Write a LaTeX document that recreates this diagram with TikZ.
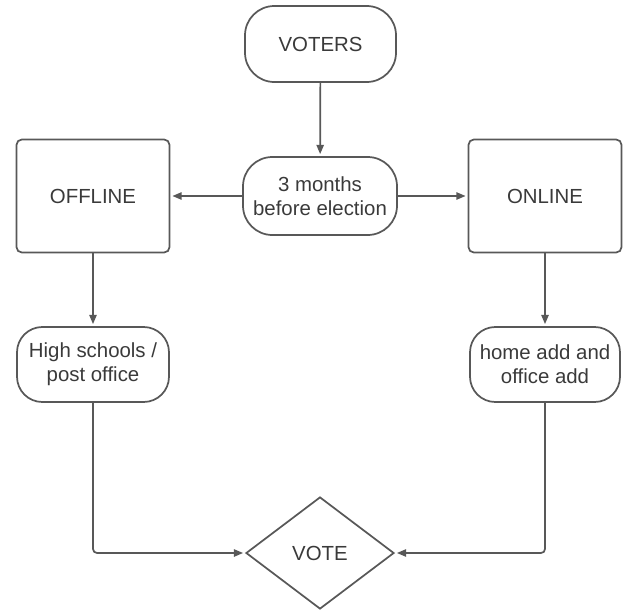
\documentclass[tikz,border=0pt]{standalone}
\usepackage{fontspec}
\setmainfont{Liberation Sans}
\usepackage{xcolor}
\usetikzlibrary{shapes.geometric, arrows.meta, positioning}
\definecolor{linegray}{RGB}{88, 88, 88}
\definecolor{textgray}{RGB}{58, 58, 58}

\begin{document}
\begin{tikzpicture}[x=0.75pt, y=-0.75pt,
    every node/.style={font=\fontsize{15.3}{18}\selectfont, text=textgray},
    flowline/.style={draw=linegray, line width=1.3pt},
    flowarrow/.style={flowline, -{Triangle[length=7pt, width=5.5pt]}, shorten >=1.5pt},
    pill/.style={flowline, rounded corners=22pt, inner sep=2pt, align=center},
    squarebox/.style={flowline, rounded corners=4pt, inner sep=2pt, align=center,
                      minimum width=114.75pt, minimum height=84.75pt},
    decision/.style={flowline, diamond, inner sep=0pt, minimum width=111pt, minimum height=84pt}]
    \useasboundingbox (0,0) rectangle (623,614);

    \node[pill, minimum width=113.25pt, minimum height=57pt] (voters) at (320.5,44) {VOTERS};
    \node[pill, minimum width=115.5pt, minimum height=58.5pt] (months) at (320,196) {3 months\\before election};
    \node[squarebox] (offline) at (93,196) {OFFLINE};
    \node[squarebox] (online) at (545,196) {ONLINE};
    \node[pill, rounded corners=19pt, minimum width=114pt, minimum height=56.25pt] (schools) at (93,364.5) {High schools /\\post office};
    \node[pill, rounded corners=19pt, minimum width=112.5pt, minimum height=56.25pt] (address) at (545,364.5) {home add and\\office add};
    \node[decision] (vote) at (320,553) {VOTE};

    \draw[flowarrow] (voters) -- (months);
    \draw[flowarrow] (months) -- (offline);
    \draw[flowarrow] (months) -- (online);
    \draw[flowarrow] (offline) -- (schools);
    \draw[flowarrow] (online) -- (address);
    \draw[flowarrow, rounded corners=3pt] (schools.south) |- (vote.west);
    \draw[flowarrow, rounded corners=3pt] (address.south) |- (vote.east);
\end{tikzpicture}
\end{document}
